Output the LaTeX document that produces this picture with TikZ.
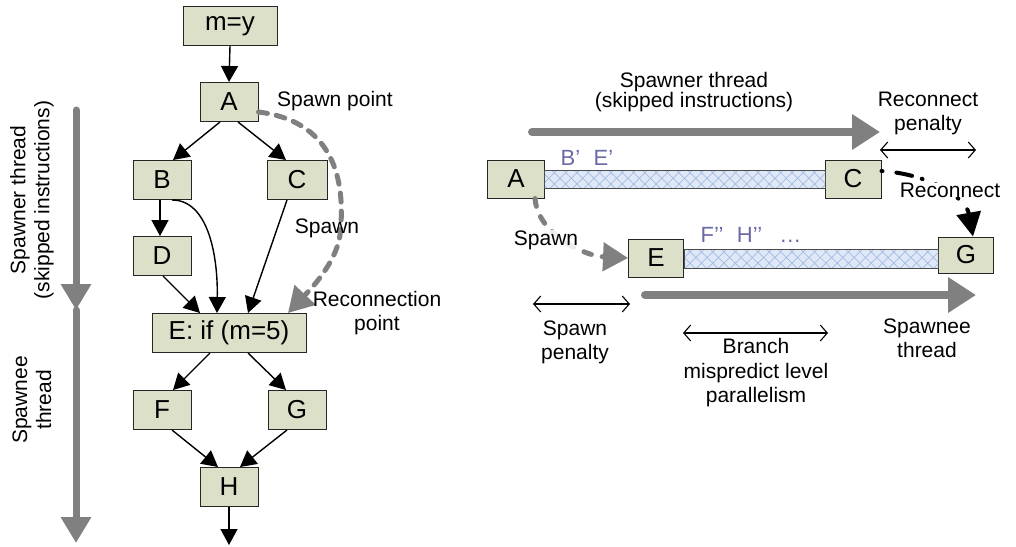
\documentclass[tikz,border=0pt]{standalone}
\usepackage{fontspec}
\setmainfont{Liberation Sans}
\usetikzlibrary{arrows.meta,patterns.meta}
\definecolor{boxfill}{RGB}{221,224,200}
\definecolor{thgray}{RGB}{128,128,128}
\definecolor{barbg}{RGB}{222,232,246}
\definecolor{hatchc}{RGB}{165,185,225}
\definecolor{lblblue}{RGB}{105,105,165}
\tikzset{
  blk/.style={draw=black!85, line width=1pt, fill=boxfill, minimum height=39pt, inner sep=0pt, font=\fontsize{26}{30}\selectfont},
  lbl/.style={align=center, inner sep=1pt, font=\fontsize{21}{24}\selectfont},
  arr/.style={line width=1.4pt, -{Triangle[length=16pt,width=17pt]}},
  dbl/.style={line width=1.1pt, {Straight Barb[length=7pt,width=16pt]}-{Straight Barb[length=7pt,width=16pt]}},
  thick gray arrow/.style={thgray, line width=8pt, -{Triangle[length=28pt,width=34pt]}},
  vgray/.style={thgray, line width=7pt, line cap=round, -{Triangle[length=26pt,width=29pt]}},
  gdash/.style={thgray, line width=5pt, line cap=round, dash pattern=on 9pt off 9pt, -{Triangle[length=25pt,width=28pt]}},
  hatchbar/.style={draw=black!70, line width=0.8pt},
}
\begin{document}
\begin{tikzpicture}[x=1pt,y=-1pt]
\useasboundingbox (0,0) rectangle (1016,546);
% ---------------- Left: CFG ----------------
\node[blk, minimum width=94pt] (my) at (230,26) {m=y};
\node[blk, minimum width=58pt] (A) at (229,102) {A};
\node[blk, minimum width=58pt] (B) at (162,180) {B};
\node[blk, minimum width=60pt] (C) at (297,180) {C};
\node[blk, minimum width=58pt] (D) at (162,256) {D};
\node[blk, minimum width=154pt] (E) at (229,333) {E: if (m=5)};
\node[blk, minimum width=58pt] (F) at (162,410) {F};
\node[blk, minimum width=58pt] (G) at (297,410) {G};
\node[blk, minimum width=58pt] (H) at (229,487) {H};
\coordinate (hend) at (229,545);

\draw[arr] (my.south) -- (A.north);
\draw[arr] ([xshift=-9pt]A.south) -- ([xshift=11pt]B.north);
\draw[arr] ([xshift=9pt]A.south) -- ([xshift=-11pt]C.north);
\draw[arr] ([xshift=-2pt]B.south) -- ([xshift=-2pt]D.north);
\draw[arr] ([xshift=10pt]B.south) .. controls (208,200) and (218,255) .. ([xshift=-12pt]E.north);
\draw[arr] ([xshift=1pt]D.south) -- ([xshift=-29pt]E.north);
\draw[arr] ([xshift=-10pt]C.south) -- ([xshift=19pt]E.north);
\draw[arr] ([xshift=-19pt]E.south) -- ([xshift=11pt]F.north);
\draw[arr] ([xshift=19pt]E.south) -- ([xshift=-11pt]G.north);
\draw[arr] ([xshift=10pt]F.south) -- ([xshift=-11pt]H.north);
\draw[arr] ([xshift=-10pt]G.south) -- ([xshift=11pt]H.north);
\draw[arr] (H.south) -- (hend);

\draw[gdash] ([yshift=-10pt]A.east) .. controls (340,122) and (345,190) .. (340,235)
  .. controls (336,265) and (305,295) .. ([xshift=59pt]E.north);

\node[lbl] (sp) at (335,101) {Spawn point};
\node[lbl] (spl) at (327,228) {Spawn};
\node[lbl] (rcp) at (377,313) {Reconnection\\point};

% left thread arrows
\coordinate (l1) at (76,110);
\coordinate (l2) at (76,310);
\coordinate (l3) at (76,543);
\draw[vgray] (l1) -- (l2);
\draw[vgray] (l2) -- (l3);
\node[lbl, rotate=90] (lsp) at (32,200) {Spawner thread\\(skipped instructions)};
\node[lbl, rotate=90] (lse) at (32,400) {Spawnee\\thread};

% ---------------- Right: timeline ----------------
\node[blk, minimum width=57pt, minimum height=38pt] (A2) at (516,179) {A};
\node[blk, minimum width=56pt, minimum height=38pt] (C2) at (853,179) {C};
\node[blk, minimum width=55pt, minimum height=38pt] (E2) at (656,258) {E};
\node[blk, minimum width=55pt, minimum height=36pt] (G2) at (966,255) {G};

% hatched bars
\foreach \xa/\ya/\xb/\yb in {544/170/825/188, 684/249/938/268}{
  \fill[barbg] (\xa,\ya) rectangle (\xb,\yb);
  \fill[pattern={Lines[angle=45,distance=8pt,line width=0.7pt]}, pattern color=hatchc] (\xa,\ya) rectangle (\xb,\yb);
  \fill[pattern={Lines[angle=-45,distance=8pt,line width=0.7pt]}, pattern color=hatchc] (\xa,\ya) rectangle (\xb,\yb);
  \draw[hatchbar] (\xa,\ya) rectangle (\xb,\yb);
}

\node[lbl, text=lblblue, font=\fontsize{22}{26}\selectfont] (be) at (587,158) {B’\,\, E’};
\node[lbl, text=lblblue, font=\fontsize{22}{26}\selectfont] (fh) at (751,235) {F’’\,\, H’’\,\,\, …};

% spawner thread arrow
\coordinate (s1) at (532,132);
\coordinate (s2) at (880,132);
\draw[thick gray arrow, line cap=round] (s1) -- (s2);
\node[lbl, font=\fontsize{21}{20}\selectfont] (spt) at (694,92) {Spawner thread\\(skipped instructions)};

% reconnect penalty
\coordinate (rp1) at (880,150);
\coordinate (rp2) at (976,150);
\draw[dbl] (rp1) -- (rp2);
\node[lbl] (rpl) at (928,113) {Reconnect\\penalty};

% reconnect arrow
\draw[black, line width=4pt, line cap=round, dash pattern=on 1pt off 14pt on 16pt off 10pt, -{Triangle[length=24pt,width=24pt]}]
  ([yshift=8pt]C2.east) .. controls (930,174) and (966,198) .. ([xshift=7pt]G2.north);
\node[lbl, fill=white, inner sep=0pt] (rcl) at (950,190) {Reconnect};

% spawn arrow
\draw[gdash, dash pattern=on 8pt off 11pt] ([xshift=19pt]A2.south) .. controls (538,235) and (585,256) .. (E2.west);
\node[lbl, fill=white, fill opacity=0.85, text opacity=1, inner sep=0pt] (spl2) at (546,240) {Spawn};

% spawnee thread arrow
\coordinate (t1) at (645,295);
\coordinate (t2) at (976,295);
\draw[thick gray arrow, line cap=round] (t1) -- (t2);
\node[lbl] (stl) at (927,338) {Spawnee\\thread};

% spawn penalty
\coordinate (pp1) at (533,304);
\coordinate (pp2) at (630,304);
\draw[dbl] (pp1) -- (pp2);
\node[lbl] (ppl) at (575,342) {Spawn\\penalty};

% branch mispredict
\coordinate (bp1) at (683,333);
\coordinate (bp2) at (828,333);
\draw[dbl] (bp1) -- (bp2);
\node[lbl, font=\fontsize{21}{24.5}\selectfont] (bpl) at (756,373) {Branch\\mispredict level\\parallelism};
\end{tikzpicture}
\end{document}
